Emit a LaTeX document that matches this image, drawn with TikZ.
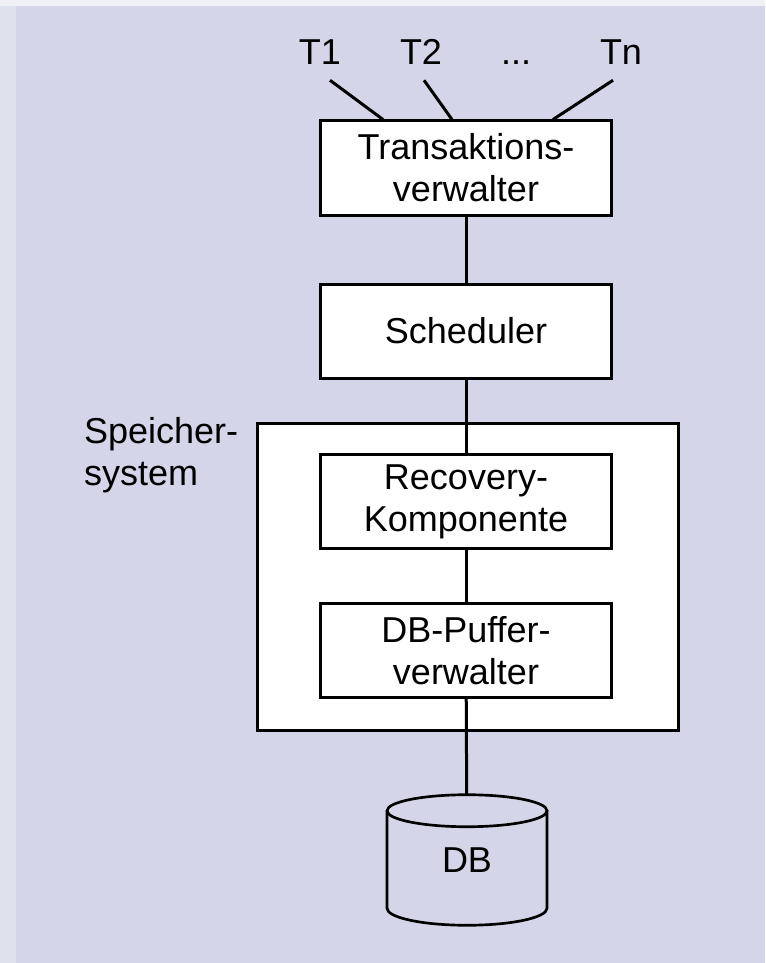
\documentclass[tikz,border=0pt]{standalone}
\usepackage{fontspec}
\setmainfont{Liberation Sans}
\definecolor{slidebg}{RGB}{212,213,233}
\definecolor{stripleft}{RGB}{222,226,236}
\definecolor{striptop}{RGB}{240,241,245}
\newcommand{\diagfont}{\fontsize{27}{31.5}\selectfont}
\begin{document}
\begin{tikzpicture}
    [x=0.75pt,y=-0.75pt,
     every node/.style={font=\diagfont},
     comp/.style={draw,line width=2.25pt,fill=white,minimum width=218.25pt,minimum height=70.5pt,align=center,inner sep=0pt},
     link/.style={line width=2.25pt},
     tlabel/.style={inner sep=0pt,anchor=base}]
    \useasboundingbox (0,0) rectangle (765,963);
    %background
    \fill[stripleft] (0,0) rectangle (765,963);
    \fill[striptop] (0,0) rectangle (765,6);
    \fill[slidebg] (16,6) rectangle (765,963);
    %transactions
    \node[tlabel] (T1) at (320,65) {T1};
    \node[tlabel] (T2) at (421,65) {T2};
    \node[tlabel] (Tdots) at (516,65) {...};
    \node[tlabel] (Tn) at (621,65) {Tn};
    %components
    \node[comp] (trans) at (466,168) {Transaktions-\\verwalter};
    \node[comp] (sched) at (466,331) {Scheduler};
    \node[draw,line width=2.25pt,fill=white,minimum width=315.75pt,minimum height=230.25pt] (speicher) at (468,576.5) {};
    \node[anchor=north east,align=left,inner sep=0pt] (speicherlabel) at ([shift={(-17.5,-4.5)}]speicher.north west) {Speicher-\\system};
    \node[comp] (recov) at (466,501.5) {Recovery-\\Komponente};
    \node[comp] (puffer) at (466,650.5) {DB-Puffer-\\verwalter};
    \node[minimum width=120pt,minimum height=97.5pt,inner sep=0pt] (db) at (467,860) {DB};
    %database
    \draw[line width=2pt] ([shift={(0,16)}]db.north) ellipse [x radius=80,y radius=16];
    \draw[line width=2pt] ([shift={(-80,16)}]db.north) -- ([shift={(-80,-17)}]db.south)
        arc[start angle=180,end angle=0,x radius=80,y radius=17] -- ([shift={(80,16)}]db.north);
    %connectors
    \draw[link] ([shift={(10,15)}]T1.south) -- ([shift={(-83,0)}]trans.north);
    \draw[link] ([shift={(3,15)}]T2.south) -- ([shift={(-14,0)}]trans.north);
    \draw[link] ([shift={(-8,15)}]Tn.south) -- ([shift={(87,0)}]trans.north);
    \draw[link] (trans) -- (sched);
    \draw[link] (sched) -- (recov);
    \draw[link] (recov) -- (puffer);
    \draw[link] (puffer) -- (db);
\end{tikzpicture}
\end{document}
